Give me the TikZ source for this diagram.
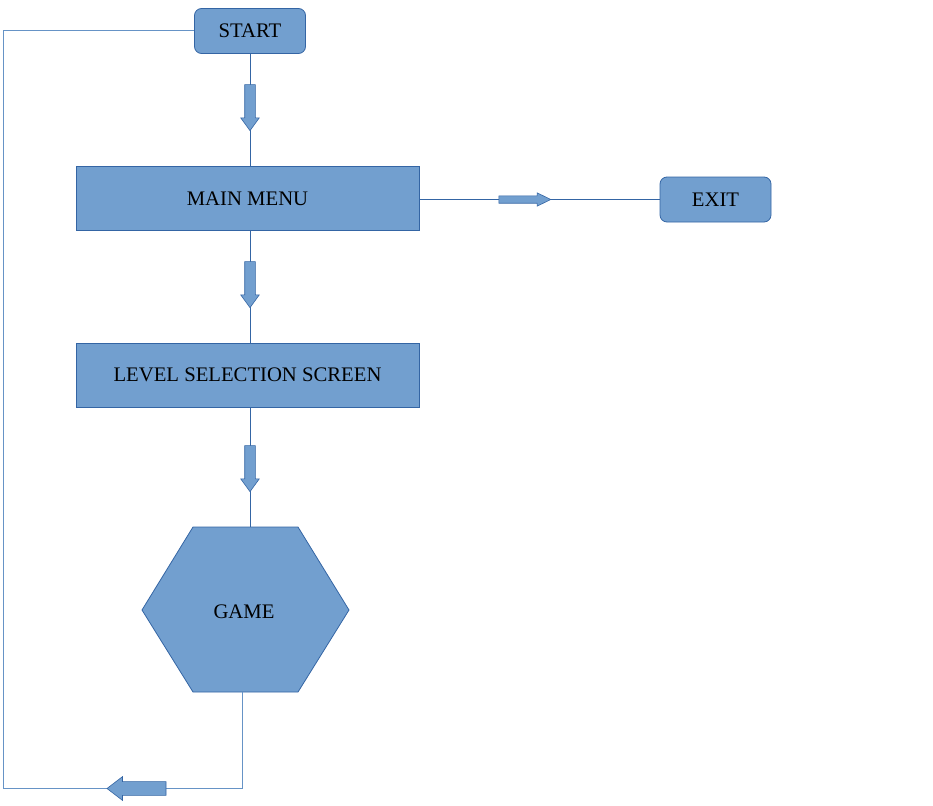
\documentclass[tikz,border=0pt]{standalone}
\usepackage{fontspec}
\setmainfont{Liberation Serif}
\usetikzlibrary{shapes.arrows}
\definecolor{boxfill}{HTML}{729FCF}
\definecolor{boxline}{HTML}{3465A4}
\tikzset{
  box/.style={draw=boxline, fill=boxfill, line width=0.8pt, font=\fontsize{20.7}{24}\selectfont},
  link/.style={draw=boxline, line width=0.8pt},
  looplink/.style={draw=boxfill!80!boxline, line width=1pt},
  blockarrow/.style={single arrow, draw=boxline, fill=boxfill, line width=0.6pt,
    single arrow head indent=0pt},
  downarrow/.style={blockarrow, rotate=-90, minimum height=46, inner sep=5pt,
    single arrow head extend=4pt, single arrow tip angle=72}
}

\begin{document}
\begin{tikzpicture}[x=1pt,y=-1pt]
            \useasboundingbox (0,0) rectangle (933,805);
            % boxes
            \node (start) at (250,31) [box, rounded corners=7pt, minimum width=111, minimum height=45]{START};
            \node (menu) at (247.5,198.5) [box, minimum width=343, minimum height=64]{MAIN MENU};
            \node (exit) at (715.5,199.5) [box, rounded corners=7pt, minimum width=111, minimum height=45]{EXIT};
            \node (level) at (247.5,375) [box, minimum width=343, minimum height=64]{LEVEL SELECTION SCREEN};
            
            % hexagon for the game
            \draw[box] (142,610) -- (193,527) -- (298,527) -- (349,610) -- (298,692) -- (193,692) -- cycle;
            \node (game) at (244,612) [font=\fontsize{20.7}{24}\selectfont]{GAME};
            \coordinate (gametop) at (250,527);
            \coordinate (gamebot) at (242.5,692);
            \coordinate (corner) at (3,788);
            
            % connectors
            \draw[link] (start.south) -- (start.south |- menu.north);
            \draw[link] (start.south |- menu.south) -- (start.south |- level.north);
            \draw[link] (start.south |- level.south) -- (gametop);
            \draw[link] (menu.east |- exit.west) -- (exit.west);
            \draw[looplink] (gamebot) |- (corner) |- (start.west);
            
            % block arrows on the connectors
            \node (arrA) at (250,104) [downarrow]{};
            \node (arrB) at (250,281) [downarrow]{};
            \node (arrC) at (250,465) [downarrow]{};
            \node (arrD) at (521,199.5) [blockarrow, minimum height=52, inner sep=3.4pt, single arrow head extend=3pt, single arrow tip angle=52]{};
            \node (arrE) at (141,788.5) [blockarrow, rotate=180, minimum height=59, inner sep=6.6pt, single arrow head extend=5pt, single arrow tip angle=75]{};
\end{tikzpicture}
\end{document}
